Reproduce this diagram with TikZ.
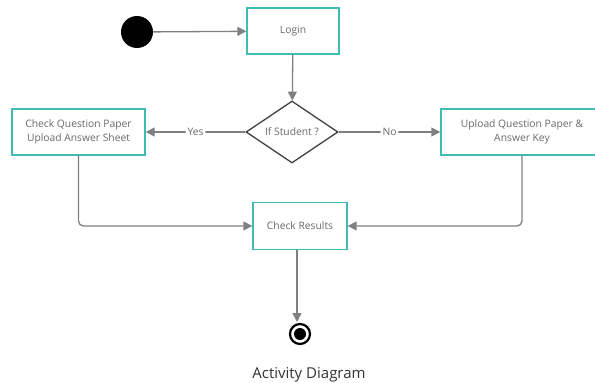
\documentclass[tikz,border=0pt]{standalone}
\usepackage{fontspec}
\setmainfont{Open Sans}
\usetikzlibrary{arrows.meta,shapes.geometric}
\definecolor{teal1}{HTML}{3DBDB3}
\definecolor{line1}{HTML}{808080}
\definecolor{txt}{HTML}{6A6A6A}
\begin{document}
\begin{tikzpicture}[x=1pt,y=-1pt,
  act/.style={draw=teal1,line width=1.3pt,fill=white,minimum width=92pt,minimum height=46pt,inner sep=0pt,align=center,font=\fontsize{10.3}{14}\selectfont,text=txt},
  dec/.style={diamond,draw=black!75,line width=1.3pt,minimum width=92pt,minimum height=62pt,inner sep=0pt,aspect=1.5,font=\fontsize{10.3}{14}\selectfont,text=txt},
  conn/.style={draw=line1,line width=1.3pt,-{Triangle[length=9pt,width=9pt]},rounded corners=5pt},
  lbl/.style={fill=white,inner sep=2pt,font=\fontsize{10.3}{14}\selectfont,text=txt}]
\useasboundingbox (0,0) rectangle (595,383);
\begin{scope}
\clip (0,0) rectangle (595,383);
\node[circle,fill=black,minimum size=32pt,inner sep=0pt] (start) at (137,32) {};
\node[act] (login) at (293,31) {Login};
\node[dec,minimum width=92pt,minimum height=62pt] (dec) at (292,132) {If Student ?};
\node[act,minimum width=133pt] (left) at (78.5,132) {Check Question Paper\\Upload Answer Sheet};
\node[act,minimum width=162pt] (right) at (522,132) {Upload Question Paper \&\\Answer Key};
\node[act,minimum width=94pt,minimum height=47pt] (res) at (300,226) {Check Results};
\node[circle,draw=black,line width=2.2pt,minimum size=20pt,inner sep=0pt] (end) at (300,334) {};
\node[circle,fill=black,minimum size=12pt,inner sep=0pt] (endin) at (end.center) {};
\node[anchor=base,font=\fontsize{15}{18}\selectfont,text=black!80] (title) at (309,378.5) {Activity Diagram};
\draw[conn] (start) -- (login);
\draw[conn] (login) -- (dec);
\draw[conn] (dec.west) -- node[lbl]{Yes} (left.east);
\draw[conn] (dec.east) -- node[lbl]{No} (right.west);
\draw[conn] (left.south) |- (res.west);
\draw[conn] (right.south) |- (res.east);
\draw[conn] (res.south -| 297,0) -- (297,322);
\end{scope}
\end{tikzpicture}
\end{document}
